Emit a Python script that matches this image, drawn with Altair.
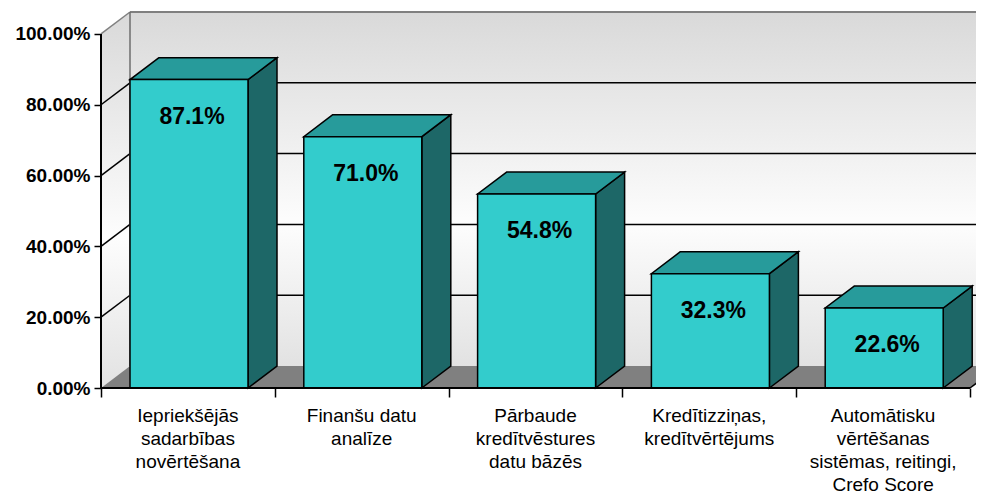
import altair as alt
import pandas as pd

# ---------------- data ----------------
categories = [
    "Iepriekšējās\nsadarbības\nnovērtēšana",
    "Finanšu datu\nanalīze",
    "Pārbaude\nkredītvēstures\ndatu bāzēs",
    "Kredītizziņas,\nkredītvērtējums",
    "Automātisku\nvērtēšanas\nsistēmas, reitingi,\nCrefo Score",
]
values = [87.1, 71.0, 54.8, 32.3, 22.6]
value_labels = ["87.1%", "71.0%", "54.8%", "32.3%", "22.6%"]
y_ticks = [0, 20, 40, 60, 80, 100]

# ---------------- geometry / style ----------------
N = len(categories)
BAND_PX = 173.8
D = 29 / BAND_PX          # depth in category units (x)
DY = 6.2                  # depth in percent units (y)
W = 118 / BAND_PX         # front face width in category units
W_PX, H_PX = 875, 376
XMAX = W_PX / BAND_PX
YMAX = 100 + DY

FRONT = "#33CCCC"
TOP = "#279B9B"
SIDE = "#1D6767"
FLOOR = "#808080"
FONT = "Liberation Sans"

xs = alt.Scale(domain=[0, XMAX], nice=False, zero=False)
ys = alt.Scale(domain=[0, YMAX], nice=False, zero=False)

x_axis = alt.Axis(values=list(range(N + 1)), labels=False, domain=False, grid=False,
                  ticks=True, tickSize=9, tickColor="black", tickWidth=1.5, title=None)
y_axis = alt.Axis(values=y_ticks, labelExpr="format(datum.value / 100, '.2%')",
                  labelFont=FONT, labelFontWeight="bold", labelFontSize=19,
                  labelColor="black", tickSize=7, tickColor="black", tickWidth=1.5,
                  labelPadding=4, domain=False, grid=False, title=None)


def X(f):
    return alt.X(f"{f}:Q", scale=xs, axis=x_axis)


def Y(f):
    return alt.Y(f"{f}:Q", scale=ys, axis=y_axis, stack=None)


wall_grad = alt.LinearGradient(
    gradient="linear",
    stops=[
        alt.GradientStop(color="#D9D9D9", offset=0),
        alt.GradientStop(color="#FDFDFD", offset=0.6),
        alt.GradientStop(color="#E2E2E2", offset=1),
    ],
    x1=0, x2=0, y1=0, y2=1,
)

# back wall
wall_df = pd.DataFrame({"x": [D], "x2": [N + D + 0.3], "y": [DY], "y2": [100 + DY]})
back_wall = alt.Chart(wall_df).mark_rect(fill=wall_grad).encode(
    x=X("x"), x2="x2", y=Y("y"), y2="y2")

# back wall gridlines
grid_df = pd.DataFrame({"t": [t for t in y_ticks if 0 < t < 100]})
grid_df["y"] = grid_df["t"] + DY
grid_df["x"] = D
grid_df["x2"] = N + D + 0.3
back_grid = alt.Chart(grid_df).mark_rule(color="black", strokeWidth=1.5).encode(
    x=X("x"), x2="x2", y=Y("y"))

top_df = pd.DataFrame({"x": [D], "x2": [N + D + 0.3], "y": [100 + DY]})
back_top = alt.Chart(top_df).mark_rule(color="#808080", strokeWidth=2).encode(
    x=X("x"), x2="x2", y=Y("y"))

# left side wall
side_df = pd.DataFrame({"x": [0, D], "y": [0, DY], "y2": [100, 100 + DY]})
side_wall = alt.Chart(side_df).mark_area(fill=wall_grad, orient="vertical").encode(
    x=X("x"), y=Y("y"), y2="y2")

diag_rows = []
for t in y_ticks[1:]:
    diag_rows.append({"t": t, "x": 0, "y": t})
    diag_rows.append({"t": t, "x": D, "y": t + DY})
diag_df = pd.DataFrame(diag_rows)
side_diag = alt.Chart(diag_df).mark_line(strokeWidth=1.5).encode(
    x=X("x"), y=Y("y"), detail="t:N",
    color=alt.condition("datum.t == 100", alt.value("#808080"), alt.value("black")))

edge_df = pd.DataFrame({"x": [D], "y": [DY], "y2": [100 + DY]})
side_edge = alt.Chart(edge_df).mark_rule(color="#6E6E6E", strokeWidth=1.5).encode(
    x=X("x"), y=Y("y"), y2="y2")

# floor
floor_df = pd.DataFrame({"y": [0, DY], "x": [0, D], "x2": [N, N + D]})
floor = alt.Chart(floor_df).mark_area(fill=FLOOR, orient="horizontal").encode(
    y=Y("y"), x=X("x"), x2="x2")

# bars
side_rows, top_rows, front_rows = [], [], []
for i, (c, v, lab) in enumerate(zip(categories, values, value_labels)):
    x0 = i + D
    x1 = x0 + W
    side_rows.append({"id": i, "x": x1, "y": 0, "y2": v})
    side_rows.append({"id": i, "x": x1 + D, "y": DY, "y2": v + DY})
    top_rows.append({"id": i, "y": v, "x": x0, "x2": x1})
    top_rows.append({"id": i, "y": v + DY, "x": x0 + D, "x2": x1 + D})
    front_rows.append({"id": i, "x": x0, "x2": x1, "xc": (x0 + x1) / 2,
                       "y": 0, "v": v, "label": lab, "cat": c, "cx": i + 0.5})
side_faces = alt.Chart(pd.DataFrame(side_rows)).mark_area(
    fill=SIDE, stroke="black", strokeWidth=1.5, orient="vertical").encode(
    x=X("x"), y=Y("y"), y2="y2", detail="id:N")
top_faces = alt.Chart(pd.DataFrame(top_rows)).mark_area(
    fill=TOP, stroke="black", strokeWidth=1.5, orient="horizontal").encode(
    y=Y("y"), x=X("x"), x2="x2", detail="id:N")

front_df = pd.DataFrame(front_rows)
front_faces = alt.Chart(front_df).mark_rect(
    fill=FRONT, stroke="black", strokeWidth=1.5).encode(
    x=X("x"), x2="x2", y=Y("y"), y2="v")

value_text = alt.Chart(front_df).mark_text(
    font=FONT, fontSize=23, fontWeight="bold", color="black",
    baseline="middle", align="center", dy=37, dx=3).encode(
    x=X("xc"), y=Y("v"), text="label:N")

# axis lines
yline_df = pd.DataFrame({"x": [0], "y": [0], "y2": [100]})
y_line = alt.Chart(yline_df).mark_rule(color="black", strokeWidth=2).encode(
    x=X("x"), y=Y("y"), y2="y2")
xline_df = pd.DataFrame({"x": [0], "x2": [N], "y": [0]})
x_line = alt.Chart(xline_df).mark_rule(color="black", strokeWidth=2).encode(
    x=X("x"), x2="x2", y=Y("y"))
redge_df = pd.DataFrame({"x": [N, N + D], "y": [0, DY]})
r_edge = alt.Chart(redge_df).mark_line(color="black", strokeWidth=1.5).encode(
    x=X("x"), y=Y("y"))

cat_text = alt.Chart(front_df).mark_text(
    font=FONT, fontSize=19, color="black", baseline="top", align="center",
    lineBreak="\n", lineHeight=23).encode(
    x=X("cx"), y=alt.value(H_PX + 19), text="cat:N")

chart = alt.layer(
    back_wall, back_grid, back_top, side_wall, side_diag, side_edge, floor,
    side_faces, top_faces, front_faces, value_text, y_line, x_line, r_edge, cat_text,
).properties(
    width=W_PX, height=H_PX,
    autosize=alt.AutoSizeParams(type="none"),
    padding={"left": 93, "top": 4, "right": 0, "bottom": 107},
    background="white",
).configure_view(stroke=None)

chart.save("out.html", embed_options={"renderer": "svg", "actions": False})
